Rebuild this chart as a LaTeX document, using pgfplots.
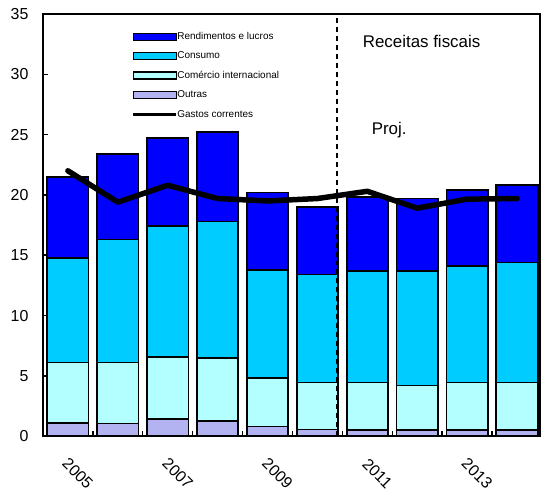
\documentclass[border=0pt]{standalone}
\usepackage{fontspec}
\setmainfont{Liberation Sans}
\usepackage{pgfplots}
\pgfplotsset{compat=1.18}

\definecolor{rendcol}{HTML}{0000FF}
\definecolor{conscol}{HTML}{00CCFF}
\definecolor{comecol}{HTML}{B3FFFF}
\definecolor{outrcol}{HTML}{B3B3F2}

\pgfplotstableread{
x outras comercio consumo rendimentos gastos
0 1.10 5.00  8.70 6.70 22.00
1 1.05 5.05 10.20 7.10 19.40
2 1.40 5.15 10.85 7.30 20.80
3 1.25 5.25 11.30 7.40 19.70
4 0.80 4.00  9.00 6.40 19.50
5 0.55 3.90  8.95 5.60 19.70
6 0.50 3.95  9.25 6.10 20.30
7 0.50 3.70  9.50 6.00 18.90
8 0.50 3.95  9.65 6.30 19.65
9 0.50 3.95  9.95 6.40 19.70
}\receitas

\begin{document}
\begin{tikzpicture}
\begin{axis}[
  name=main,
  scale only axis, width=498bp, height=423bp,
  xmin=-0.5, xmax=9.46, ymin=0, ymax=35,
  ybar stacked, bar width=0.83,
  reverse stacked plots=false,
  ytick={0,5,...,35},
  xtick={0,2,4,6,8}, xticklabels={2005,2007,2009,2011,2013},
  minor xtick={0.5,1.5,...,8.5},
  tick align=inside, ytick pos=left, xtick pos=bottom,
  major tick length=5bp, minor tick length=5bp,
  major x tick style={draw=none},
  tick style={black, line width=1.5bp},
  axis line style={black, line width=2bp},
  /pgf/number format/assume math mode=true,
  ticklabel style={font=\fontsize{16}{16}\selectfont},
  xticklabel style={xshift=10bp, yshift=-37.5bp, rotate=-45, anchor=center},
  yticklabel style={xshift=-11bp},
  every axis plot/.append style={draw=black, line width=1.8bp},
  legend style={draw=none, fill=none, at={(0.1787,0.958)}, anchor=north west,
    inner sep=0pt, row sep=10bp,
    font=\fontsize{10}{10}\selectfont,
    nodes={inner sep=0pt, text height=7.5bp, text depth=2bp}},
  legend cell align=left,
  /tikz/every even column/.append style={column sep=4bp},
  clip=false,
]
% legend entries, listed top to bottom
\addlegendimage{legend image code/.code={\draw[fill=rendcol, draw=black, line width=1.2bp] (0bp,-3.5bp) rectangle (43bp,3.5bp);}}
\addlegendentry{Rendimentos e lucros}
\addlegendimage{legend image code/.code={\draw[fill=conscol, draw=black, line width=1.2bp] (0bp,-3.5bp) rectangle (43bp,3.5bp);}}
\addlegendentry{Consumo}
\addlegendimage{legend image code/.code={\draw[fill=comecol, draw=black, line width=1.2bp] (0bp,-3.5bp) rectangle (43bp,3.5bp);}}
\addlegendentry{Comércio internacional}
\addlegendimage{legend image code/.code={\draw[fill=outrcol, draw=black, line width=1.2bp] (0bp,-3.5bp) rectangle (43bp,3.5bp);}}
\addlegendentry{Outras}
\addlegendimage{legend image code/.code={\draw[black, line width=2.5bp] (0bp,0bp) -- (43bp,0bp);}}
\addlegendentry{Gastos correntes}

% stacked revenue components
\addplot[fill=outrcol] table[x=x, y=outras] {\receitas};
\addplot[fill=comecol] table[x=x, y=comercio] {\receitas};
\addplot[fill=conscol] table[x=x, y=consumo] {\receitas};
\addplot[fill=rendcol] table[x=x, y=rendimentos] {\receitas};

% projection separator
\addplot[black, line width=1.5bp, dash pattern=on 5bp off 4bp, sharp plot,
  stack plots=false, forget plot] coordinates {(5.39,0) (5.39,35)};

% current spending
\addplot[black, line width=5.5bp, sharp plot, stack plots=false, no markers,
  line join=round, line cap=round] table[x=x, y=gastos] {\receitas};

\node[anchor=west, font=\fontsize{17}{17}\selectfont] at (axis cs:5.84,32.7) {Receitas fiscais};
\node[anchor=west, font=\fontsize{17}{17}\selectfont] at (axis cs:6.02,25.4) {Proj.};
\end{axis}
\path (main.south west) ++(-43bp,-60bp);
\path (main.north east) ++(0bp,14bp);
\end{tikzpicture}
\end{document}
